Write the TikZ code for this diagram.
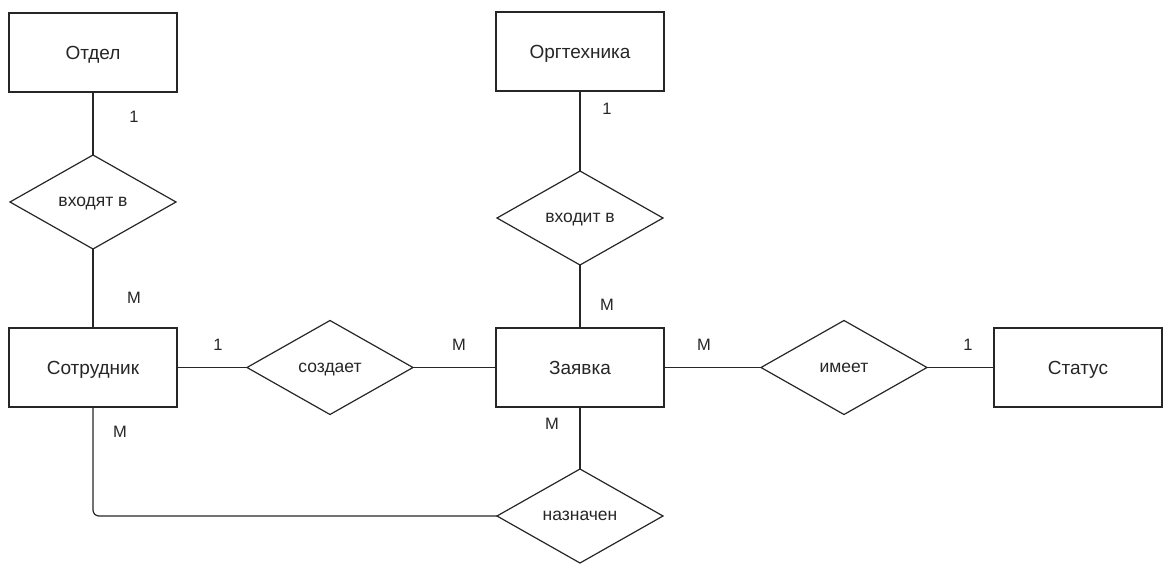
\documentclass[tikz,border=0pt]{standalone}
\usepackage{fontspec}
\setmainfont{Liberation Sans}
\usetikzlibrary{positioning,shapes.geometric}

\tikzset{
  entity/.style={draw, rectangle, minimum width=168pt, minimum height=79pt,
    inner sep=0pt, outer sep=0pt, text depth=0pt, font=\fontsize{19}{21}\selectfont},
  rel/.style={draw, diamond, aspect=1.77, minimum width=166pt, minimum height=94pt,
    inner sep=0pt, outer sep=0pt, text depth=0pt, font=\fontsize{17.5}{19}\selectfont},
  card/.style={inner sep=0pt, font=\fontsize{16.5}{18}\selectfont}
}

\begin{document}
\begin{tikzpicture}[x=1pt, y=-1pt, line width=1.2pt, draw=black!85, text=black!85]
  \useasboundingbox (0,0) rectangle (1163,563);

  \node (sotr) [entity] at (93,367.5) {Сотрудник};
  \node (vhodyat) [rel, above=79pt of sotr] {входят в};
  \node (otdel) [entity, above=63pt of vhodyat] {Отдел};
  \node (sozdaet) [rel, right=70pt of sotr] {создает};
  \node (zayavka) [entity, right=83pt of sozdaet] {Заявка};
  \node (vhodit) [rel, above=63pt of zayavka] {входит в};
  \node (orgteh) [entity, above=80pt of vhodit] {Оргтехника};
  \node (imeet) [rel, right=97pt of zayavka] {имеет};
  \node (status) [entity, right=67pt of imeet] {Статус};
  \node (naznachen) [rel, below=62pt of zayavka] {назначен};

  \path[draw]
    (otdel) edge (vhodyat)
    (vhodyat) edge (sotr)
    (sotr) edge (sozdaet)
    (sozdaet) edge (zayavka)
    (orgteh) edge (vhodit)
    (vhodit) edge (zayavka)
    (zayavka) edge (imeet)
    (imeet) edge (status)
    (zayavka) edge (naznachen);
  \draw[rounded corners=6pt] (sotr) |- (naznachen);

  \node (otdel1) [card] at (134,117) {1};
  \node (sotrM1) [card] at (134,298) {M};
  \node (sotr1) [card] at (218,345) {1};
  \node (zayavkaM1) [card] at (459,345) {M};
  \node (zayavkaM2) [card] at (704,345) {M};
  \node (status1) [card] at (968,345) {1};
  \node (sotrM2) [card] at (120,432) {M};
  \node (zayavkaM3) [card] at (552,424) {M};
  \node (orgteh1) [card] at (607,109) {1};
  \node (zayavkaM4) [card] at (607,305) {M};
\end{tikzpicture}
\end{document}
